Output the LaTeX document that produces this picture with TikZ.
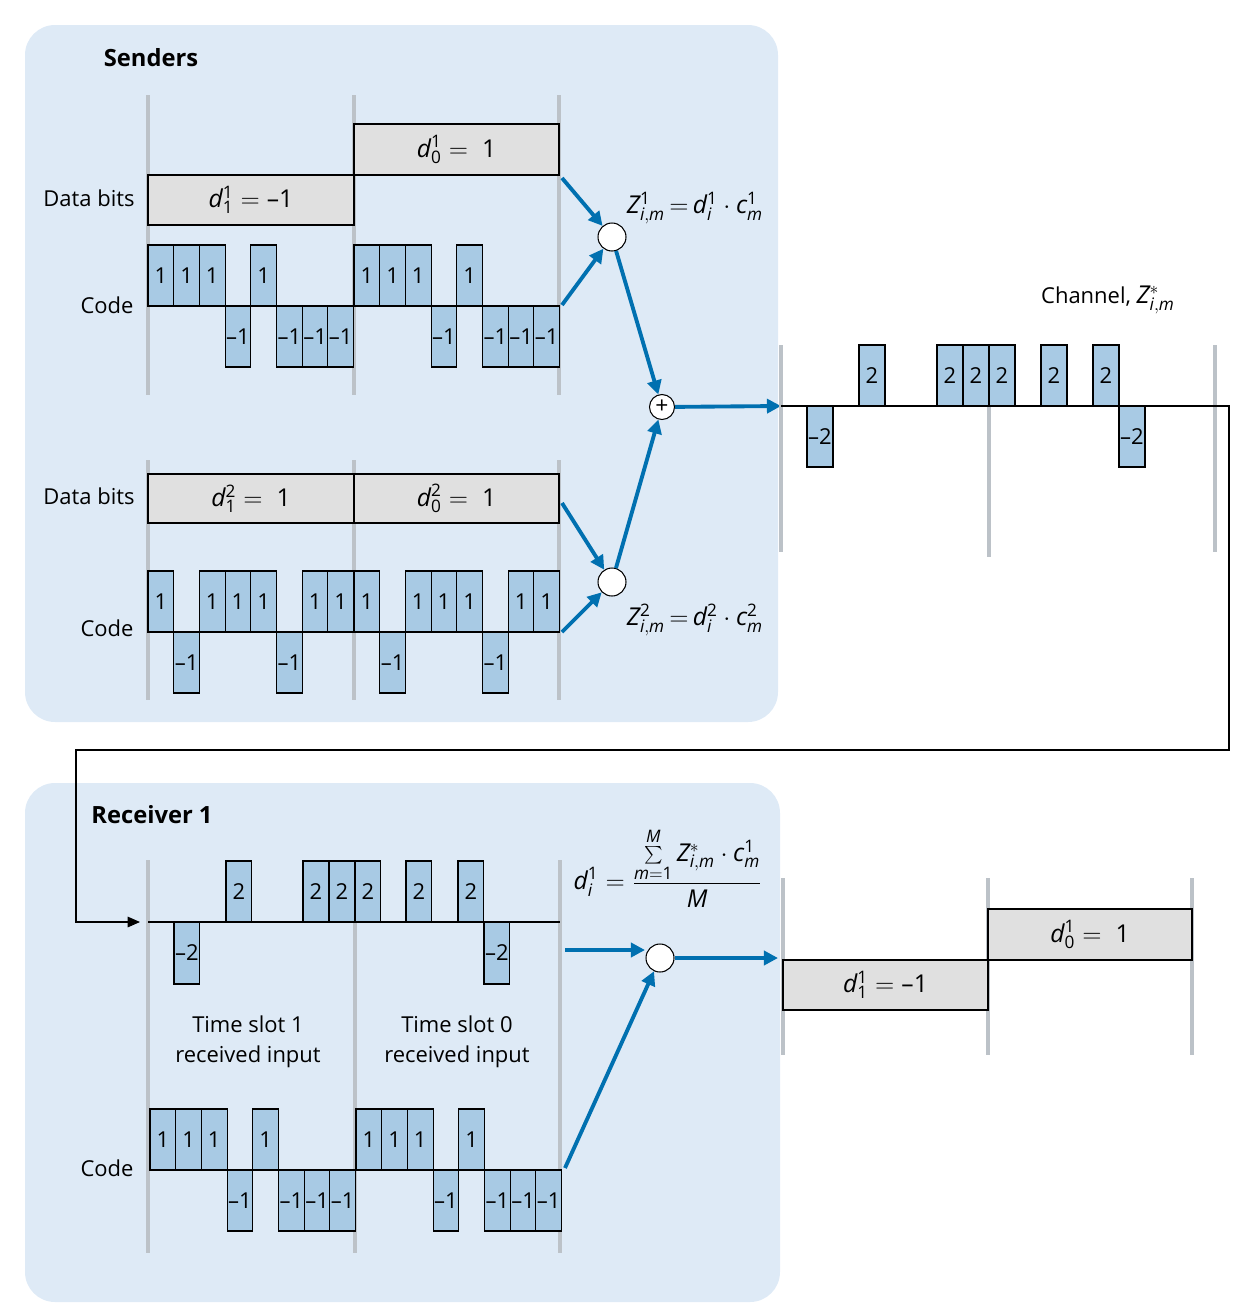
\documentclass[tikz,border=0pt]{standalone}
\usepackage{fontspec}
\setmainfont{Open Sans}
\usetikzlibrary{arrows.meta}
\definecolor{panel}{RGB}{222,234,246}
\definecolor{chipc}{RGB}{168,202,228}
\definecolor{arrb}{RGB}{0,112,176}
\definecolor{gline}{RGB}{188,194,200}
\definecolor{dbox}{RGB}{224,224,224}
\newcommand\mychip[5]{\draw[chip] (#1,#2) rectangle ++(#3,#4) node[midway,txt]{#5};}
\newcommand\mi[1]{\mathit{#1}}
\newcommand\mr[1]{\mathrm{#1}}
\begin{document}
\begin{tikzpicture}[x=0.02cm,y=-0.02cm,
  txt/.style={font=\fontsize{12.5}{15}\selectfont,inner sep=0pt},
  mth/.style={font=\fontsize{14}{17}\selectfont,inner sep=0pt},
  chip/.style={draw=black,line width=0.6pt,fill=chipc},
  gl/.style={draw=gline,line width=2.4pt},
  dbx/.style={draw=black,line width=0.6pt,fill=dbox},
  ba/.style={draw=arrb,line width=2.2pt,-{Triangle[length=8pt,width=8pt]}},
  circ/.style={circle,draw=black,fill=white,line width=0.6pt,minimum size=0.56cm,inner sep=0pt}]
\useasboundingbox (0,0) rectangle (1254,1313);
% panels
\fill[panel,rounded corners=0.6cm] (25,25) rectangle (778,722);
\fill[panel,rounded corners=0.6cm] (25,783) rectangle (780,1302);
\node[txt,font=\fontsize{13.5}{16}\selectfont\bfseries] (sendT) at (151,58) {Senders};
\node[txt,font=\fontsize{13.5}{16}\selectfont\bfseries] (recT) at (152,815) {Receiver 1};
% sender gray lines
\foreach \x in {148,354,559}{\draw[gl] (\x,95)--(\x,395); \draw[gl] (\x,460)--(\x,700);}
% sender 1 data
\draw[dbx] (354,124) rectangle (559,175) node[midway,mth]{$\mi{d}^{\mr{1}}_{\mr{0}}\mr{\;=\;1}$};
\draw[dbx] (148,175) rectangle (354,225) node[midway,mth]{$\mi{d}^{\mr{1}}_{\mr{1}}\mr{\;=\;}$–1};
\node[txt] (db1) at (89,198) {Data bits};
\node[txt] (cd1) at (107,305) {Code};
\foreach \o in {148,354}{
 \foreach \v [count=\i from 0] in {1,1,1,-1,1,-1,-1,-1}{
  \pgfmathsetmacro\xx{\o+\i*25.7}
  \ifnum\v>0 \mychip{\xx}{306}{25.7}{-61}{1}\else\mychip{\xx}{306}{25.7}{61}{–1}\fi}}
% sender 2 data
\draw[dbx] (148,474) rectangle (354,523) node[midway,mth]{$\mi{d}^{\mr{2}}_{\mr{1}}\mr{\;=\;1}$};
\draw[dbx] (354,474) rectangle (559,523) node[midway,mth]{$\mi{d}^{\mr{2}}_{\mr{0}}\mr{\;=\;1}$};
\node[txt] (db2) at (89,496) {Data bits};
\node[txt] (cd2) at (107,628) {Code};
\foreach \o in {148,354}{
 \foreach \v [count=\i from 0] in {1,-1,1,1,1,-1,1,1}{
  \pgfmathsetmacro\xx{\o+\i*25.7}
  \ifnum\v>0 \mychip{\xx}{632}{25.7}{-61}{1}\else\mychip{\xx}{632}{25.7}{61}{–1}\fi}}
% circles
\node[circ] (m1) at (612,237) {};
\node[circ] (m2) at (612,582) {};
\node[circ,minimum size=0.5cm,font=\fontsize{13}{13}\selectfont] (add) at (662,407) {+};
\coordinate (a1) at (562,178); \coordinate (a2) at (562,305);
\coordinate (a3) at (562,503); \coordinate (a4) at (562,632);
\draw[ba] (a1)--(m1); \draw[ba] (a2)--(m1);
\draw[ba] (a3)--(m2); \draw[ba] (a4)--(m2);
\draw[ba] (m1)--(add); \draw[ba] (m2)--(add);
\coordinate (chs) at (781,406);
\draw[ba] (add)--(chs);
\node[mth] (f1) at (695,208) {$\mi{Z}^{\mr{1}}_{\mi{i,m}}\mr{\,=\,}\mi{d}^{\mr{1}}_{\mi{i}}\cdot\mi{c}^{\mr{1}}_{\mi{m}}$};
\node[mth] (f2) at (695,620) {$\mi{Z}^{\mr{2}}_{\mi{i,m}}\mr{\,=\,}\mi{d}^{\mr{2}}_{\mi{i}}\cdot\mi{c}^{\mr{2}}_{\mi{m}}$};
% channel
\draw[gl] (781,345)--(781,552); \draw[gl] (989,405)--(989,557); \draw[gl] (1215,345)--(1215,552);
\node[txt] (chT) at (1108,300) {Channel, {\fontsize{14}{17}\selectfont$\mi{Z}^{*}_{\mi{i,m}}$}};
\foreach \x/\v in {807/-2,859/2,937/2,963/2,989/2,1041/2,1093/2,1119/-2}{
  \ifnum\v>0 \mychip{\x}{406}{26}{-61}{2}\else\mychip{\x}{406}{26}{61}{–2}\fi}
\coordinate (rin) at (140,922);
\draw[line width=0.6pt,-{Triangle[length=7pt,width=6pt]}] (chs)--(1229,406)--(1229,750)--(76,750)--(76,922)--(rin);
% receiver
\foreach \x in {148,355,560}{\draw[gl] (\x,860)--(\x,1253);}
\draw[line width=0.6pt] (148,922)--(560,922);
\foreach \x/\v in {174/-2,226/2,303/2,329/2,355/2,406/2,458/2,484/-2}{
  \ifnum\v>0 \mychip{\x}{922}{25.8}{-61}{2}\else\mychip{\x}{922}{25.8}{62}{–2}\fi}
\node[txt,align=center] (ts1) at (248,1042) {Time slot 1\\[2pt]received input};
\node[txt,align=center] (ts0) at (457,1042) {Time slot 0\\[2pt]received input};
\node[txt] (cd3) at (107,1168) {Code};
\foreach \o in {150,356}{
 \foreach \v [count=\i from 0] in {1,1,1,-1,1,-1,-1,-1}{
  \pgfmathsetmacro\xx{\o+\i*25.7}
  \ifnum\v>0 \mychip{\xx}{1170}{25.7}{-61}{1}\else\mychip{\xx}{1170}{25.7}{61}{–1}\fi}}
\node[circ] (rm) at (660,958) {};
\coordinate (r1) at (565,950); \coordinate (r2) at (565,1168);
\draw[ba] (r1)--(645,950); \draw[ba] (r2)--(rm);
\coordinate (outs) at (778,958);
\draw[ba] (rm)--(outs);
\node[mth] (f3) at (668,868) {$\displaystyle\mi{d}^{\mr{1}}_{\mi{i}}\mr{\;=\;}\frac{\sum\limits_{\mi{m}\mr{=1}}^{\mi{M}}\mi{Z}^{*}_{\mi{i,m}}\cdot\mi{c}^{\mr{1}}_{\mi{m}}}{\mi{M}}$};
% output
\foreach \x in {783,988,1192}{\draw[gl] (\x,878)--(\x,1055);}
\draw[dbx] (783,960) rectangle (988,1010) node[midway,mth]{$\mi{d}^{\mr{1}}_{\mr{1}}\mr{\;=\;}$–1};
\draw[dbx] (988,909) rectangle (1192,960) node[midway,mth]{$\mi{d}^{\mr{1}}_{\mr{0}}\mr{\;=\;1}$};
\end{tikzpicture}
\end{document}
